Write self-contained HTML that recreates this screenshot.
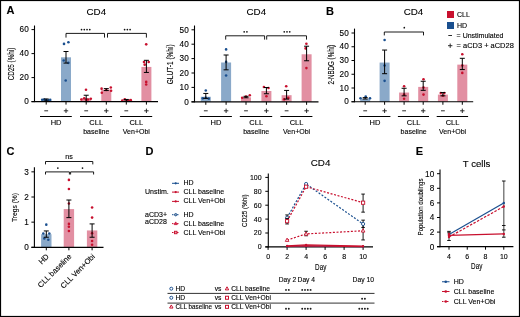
<!DOCTYPE html>
<html><head><meta charset="utf-8"><style>
html,body{margin:0;padding:0;background:#fff;}
body{width:520px;height:317px;overflow:hidden;}
svg{display:block;font-family:"Liberation Sans", sans-serif;will-change:transform;}
text{stroke:#000;stroke-width:0.12px;}
</style></head><body>
<svg width="520" height="317" viewBox="0 0 520 317">

<text x="10.6" y="14.4" font-size="11" text-anchor="middle" font-weight="bold" fill="#000" >A</text>
<text x="330.0" y="14.5" font-size="11" text-anchor="middle" font-weight="bold" fill="#000" >B</text>
<text x="10.5" y="154.8" font-size="11" text-anchor="middle" font-weight="bold" fill="#000" >C</text>
<text x="149.4" y="154.8" font-size="11" text-anchor="middle" font-weight="bold" fill="#000" >D</text>
<text x="419.3" y="154.9" font-size="11" text-anchor="middle" font-weight="bold" fill="#000" >E</text>
<text x="96.3" y="14.8" font-size="9.8" text-anchor="middle" font-weight="normal" fill="#000" >CD4</text>
<line x1="34.5" y1="25.5" x2="34.5" y2="102.1" stroke="#000" stroke-width="1.1" />
<line x1="31.5" y1="101.6" x2="34.5" y2="101.6" stroke="#000" stroke-width="1" />
<text x="28.7" y="104.3" font-size="8.2" text-anchor="end" font-weight="normal" fill="#000" >0</text>
<line x1="31.5" y1="77.6" x2="34.5" y2="77.6" stroke="#000" stroke-width="1" />
<text x="28.7" y="80.3" font-size="8.2" text-anchor="end" font-weight="normal" fill="#000" >20</text>
<line x1="31.5" y1="53.599999999999994" x2="34.5" y2="53.599999999999994" stroke="#000" stroke-width="1" />
<text x="28.7" y="56.3" font-size="8.2" text-anchor="end" font-weight="normal" fill="#000" >40</text>
<line x1="31.5" y1="29.599999999999994" x2="34.5" y2="29.599999999999994" stroke="#000" stroke-width="1" />
<text x="28.7" y="32.3" font-size="8.2" text-anchor="end" font-weight="normal" fill="#000" >60</text>
<rect x="41.2" y="100.39999999999999" width="10" height="1.2" fill="#8aa9c9"/>
<circle cx="42.2" cy="99.8" r="1.3" fill="#1a4f8f"/>
<circle cx="44.2" cy="99.44" r="1.3" fill="#1a4f8f"/>
<circle cx="46.2" cy="100.16" r="1.3" fill="#1a4f8f"/>
<circle cx="48.2" cy="100.39999999999999" r="1.3" fill="#1a4f8f"/>
<circle cx="50.2" cy="99.91999999999999" r="1.3" fill="#1a4f8f"/>
<line x1="46.2" y1="98.96" x2="46.2" y2="101.0" stroke="#000" stroke-width="1" />
<line x1="43.7" y1="98.96" x2="48.7" y2="98.96" stroke="#000" stroke-width="1" />
<line x1="43.7" y1="101.0" x2="48.7" y2="101.0" stroke="#000" stroke-width="1" />
<line x1="46.2" y1="101.6" x2="46.2" y2="104.6" stroke="#000" stroke-width="1" />
<rect x="61.0" y="57.32" width="10" height="44.279999999999994" fill="#8aa9c9"/>
<circle cx="64" cy="43.879999999999995" r="1.3" fill="#1a4f8f"/>
<circle cx="68.4" cy="42.32" r="1.3" fill="#1a4f8f"/>
<circle cx="63.7" cy="60.44" r="1.3" fill="#1a4f8f"/>
<circle cx="68.4" cy="62.839999999999996" r="1.3" fill="#1a4f8f"/>
<circle cx="65.7" cy="80.47999999999999" r="1.3" fill="#1a4f8f"/>
<line x1="66" y1="51.49999999999999" x2="66" y2="63.07999999999999" stroke="#000" stroke-width="1" />
<line x1="63.5" y1="51.49999999999999" x2="68.5" y2="51.49999999999999" stroke="#000" stroke-width="1" />
<line x1="63.5" y1="63.07999999999999" x2="68.5" y2="63.07999999999999" stroke="#000" stroke-width="1" />
<line x1="66" y1="101.6" x2="66" y2="104.6" stroke="#000" stroke-width="1" />
<rect x="81.2" y="98.24" width="10" height="3.36" fill="#e28fa2"/>
<circle cx="86.0" cy="89.72" r="1.3" fill="#c8102e"/>
<circle cx="81.3" cy="99.44" r="1.3" fill="#c8102e"/>
<circle cx="84.2" cy="98.36" r="1.3" fill="#c8102e"/>
<circle cx="87.9" cy="99.44" r="1.3" fill="#c8102e"/>
<circle cx="90.8" cy="98.72" r="1.3" fill="#c8102e"/>
<circle cx="86.2" cy="99.8" r="1.3" fill="#c8102e"/>
<line x1="86.2" y1="95.24" x2="86.2" y2="101.6" stroke="#000" stroke-width="1" />
<line x1="83.7" y1="95.24" x2="88.7" y2="95.24" stroke="#000" stroke-width="1" />
<line x1="83.7" y1="101.6" x2="88.7" y2="101.6" stroke="#000" stroke-width="1" />
<line x1="86.2" y1="101.6" x2="86.2" y2="104.6" stroke="#000" stroke-width="1" />
<rect x="101.3" y="89.72" width="10" height="11.88" fill="#e28fa2"/>
<circle cx="101.6" cy="88.63999999999999" r="1.3" fill="#c8102e"/>
<circle cx="110.8" cy="87.5" r="1.3" fill="#c8102e"/>
<circle cx="101.8" cy="92.72" r="1.3" fill="#c8102e"/>
<circle cx="111.1" cy="90.8" r="1.3" fill="#c8102e"/>
<circle cx="106.3" cy="89.96" r="1.3" fill="#c8102e"/>
<line x1="106.3" y1="88.63999999999999" x2="106.3" y2="90.56" stroke="#000" stroke-width="1" />
<line x1="103.8" y1="88.63999999999999" x2="108.8" y2="88.63999999999999" stroke="#000" stroke-width="1" />
<line x1="103.8" y1="90.56" x2="108.8" y2="90.56" stroke="#000" stroke-width="1" />
<line x1="106.3" y1="101.6" x2="106.3" y2="104.6" stroke="#000" stroke-width="1" />
<rect x="121.3" y="100.39999999999999" width="10" height="1.2" fill="#e28fa2"/>
<circle cx="122.3" cy="100.64" r="1.3" fill="#c8102e"/>
<circle cx="124.8" cy="99.32" r="1.3" fill="#c8102e"/>
<circle cx="126.8" cy="100.39999999999999" r="1.3" fill="#c8102e"/>
<circle cx="129.3" cy="100.64" r="1.3" fill="#c8102e"/>
<circle cx="130.8" cy="100.16" r="1.3" fill="#c8102e"/>
<line x1="126.3" y1="99.44" x2="126.3" y2="101.24" stroke="#000" stroke-width="1" />
<line x1="123.8" y1="99.44" x2="128.8" y2="99.44" stroke="#000" stroke-width="1" />
<line x1="123.8" y1="101.24" x2="128.8" y2="101.24" stroke="#000" stroke-width="1" />
<line x1="126.3" y1="101.6" x2="126.3" y2="104.6" stroke="#000" stroke-width="1" />
<rect x="141.4" y="66.91999999999999" width="10" height="34.68" fill="#e28fa2"/>
<circle cx="146.20000000000002" cy="44.35999999999999" r="1.3" fill="#c8102e"/>
<circle cx="144.0" cy="61.99999999999999" r="1.3" fill="#c8102e"/>
<circle cx="148.70000000000002" cy="61.99999999999999" r="1.3" fill="#c8102e"/>
<circle cx="144.70000000000002" cy="64.63999999999999" r="1.3" fill="#c8102e"/>
<circle cx="146.20000000000002" cy="81.92" r="1.3" fill="#c8102e"/>
<circle cx="146.20000000000002" cy="84.56" r="1.3" fill="#c8102e"/>
<line x1="146.4" y1="60.32" x2="146.4" y2="72.44" stroke="#000" stroke-width="1" />
<line x1="143.9" y1="60.32" x2="148.9" y2="60.32" stroke="#000" stroke-width="1" />
<line x1="143.9" y1="72.44" x2="148.9" y2="72.44" stroke="#000" stroke-width="1" />
<line x1="146.4" y1="101.6" x2="146.4" y2="104.6" stroke="#000" stroke-width="1" />
<line x1="31.5" y1="101.6" x2="158" y2="101.6" stroke="#000" stroke-width="1.2" />
<line x1="44.300000000000004" y1="110.8" x2="48.1" y2="110.8" stroke="#222" stroke-width="0.95" />
<line x1="63.8" y1="110.8" x2="68.2" y2="110.8" stroke="#222" stroke-width="0.95" />
<line x1="66" y1="108.6" x2="66" y2="113.0" stroke="#222" stroke-width="0.95" />
<line x1="84.3" y1="110.8" x2="88.10000000000001" y2="110.8" stroke="#222" stroke-width="0.95" />
<line x1="104.1" y1="110.8" x2="108.5" y2="110.8" stroke="#222" stroke-width="0.95" />
<line x1="106.3" y1="108.6" x2="106.3" y2="113.0" stroke="#222" stroke-width="0.95" />
<line x1="124.39999999999999" y1="110.8" x2="128.2" y2="110.8" stroke="#222" stroke-width="0.95" />
<line x1="144.20000000000002" y1="110.8" x2="148.6" y2="110.8" stroke="#222" stroke-width="0.95" />
<line x1="146.4" y1="108.6" x2="146.4" y2="113.0" stroke="#222" stroke-width="0.95" />
<line x1="40.0" y1="116.5" x2="71.8" y2="116.5" stroke="#000" stroke-width="1" />
<text x="56.1" y="124.9" font-size="7.5" text-anchor="middle" font-weight="normal" fill="#000" >HD</text>
<line x1="80.0" y1="116.5" x2="112.1" y2="116.5" stroke="#000" stroke-width="1" />
<text x="96.25" y="124.9" font-size="7.5" text-anchor="middle" font-weight="normal" fill="#000" >CLL</text>
<text x="96.25" y="134.1" font-size="7" text-anchor="middle" font-weight="normal" fill="#000" >baseline</text>
<line x1="120.1" y1="116.5" x2="152.20000000000002" y2="116.5" stroke="#000" stroke-width="1" />
<text x="136.35" y="124.9" font-size="7.5" text-anchor="middle" font-weight="normal" fill="#000" >CLL</text>
<text x="136.35" y="134.1" font-size="7" text-anchor="middle" font-weight="normal" fill="#000" >Ven+Obi</text>
<text transform="translate(14.0,80.35) rotate(-90)" font-size="8.5" text-anchor="start" textLength="32.7" lengthAdjust="spacingAndGlyphs">CD25 (%hi)</text>
<polyline points="66,37.6 66,33.4 104.5,33.4 104.5,37.6" fill="none" stroke="#000" stroke-width="0.9"/>
<circle cx="81.53" cy="29.599999999999998" r="0.85" fill="#111"/>
<circle cx="84.28" cy="29.599999999999998" r="0.85" fill="#111"/>
<circle cx="87.03" cy="29.599999999999998" r="0.85" fill="#111"/>
<circle cx="89.78" cy="29.599999999999998" r="0.85" fill="#111"/>
<polyline points="107.5,37.6 107.5,33.4 146.4,33.4 146.4,37.6" fill="none" stroke="#000" stroke-width="0.9"/>
<circle cx="124.60" cy="29.599999999999998" r="0.85" fill="#111"/>
<circle cx="127.35" cy="29.599999999999998" r="0.85" fill="#111"/>
<circle cx="130.10" cy="29.599999999999998" r="0.85" fill="#111"/>
<text x="256.3" y="14.8" font-size="9.8" text-anchor="middle" font-weight="normal" fill="#000" >CD4</text>
<line x1="194.5" y1="25.5" x2="194.5" y2="102.3" stroke="#000" stroke-width="1.1" />
<line x1="191.5" y1="101.8" x2="194.5" y2="101.8" stroke="#000" stroke-width="1" />
<text x="188.7" y="104.5" font-size="8.2" text-anchor="end" font-weight="normal" fill="#000" >0</text>
<line x1="191.5" y1="87.4" x2="194.5" y2="87.4" stroke="#000" stroke-width="1" />
<text x="188.7" y="90.10000000000001" font-size="8.2" text-anchor="end" font-weight="normal" fill="#000" >10</text>
<line x1="191.5" y1="73.0" x2="194.5" y2="73.0" stroke="#000" stroke-width="1" />
<text x="188.7" y="75.7" font-size="8.2" text-anchor="end" font-weight="normal" fill="#000" >20</text>
<line x1="191.5" y1="58.6" x2="194.5" y2="58.6" stroke="#000" stroke-width="1" />
<text x="188.7" y="61.300000000000004" font-size="8.2" text-anchor="end" font-weight="normal" fill="#000" >30</text>
<line x1="191.5" y1="44.2" x2="194.5" y2="44.2" stroke="#000" stroke-width="1" />
<text x="188.7" y="46.900000000000006" font-size="8.2" text-anchor="end" font-weight="normal" fill="#000" >40</text>
<line x1="191.5" y1="29.799999999999997" x2="194.5" y2="29.799999999999997" stroke="#000" stroke-width="1" />
<text x="188.7" y="32.5" font-size="8.2" text-anchor="end" font-weight="normal" fill="#000" >50</text>
<rect x="200.8" y="96.75999999999999" width="10" height="5.04" fill="#8aa9c9"/>
<circle cx="205.8" cy="90.568" r="1.3" fill="#1a4f8f"/>
<circle cx="202.8" cy="98.344" r="1.3" fill="#1a4f8f"/>
<circle cx="205.8" cy="97.768" r="1.3" fill="#1a4f8f"/>
<circle cx="208.8" cy="98.63199999999999" r="1.3" fill="#1a4f8f"/>
<line x1="205.8" y1="93.448" x2="205.8" y2="98.344" stroke="#000" stroke-width="1" />
<line x1="203.3" y1="93.448" x2="208.3" y2="93.448" stroke="#000" stroke-width="1" />
<line x1="203.3" y1="98.344" x2="208.3" y2="98.344" stroke="#000" stroke-width="1" />
<line x1="205.8" y1="101.8" x2="205.8" y2="104.8" stroke="#000" stroke-width="1" />
<rect x="221.1" y="62.488" width="10" height="39.312" fill="#8aa9c9"/>
<circle cx="226.1" cy="49.384" r="1.3" fill="#1a4f8f"/>
<circle cx="226.1" cy="61.912" r="1.3" fill="#1a4f8f"/>
<circle cx="226.1" cy="75.448" r="1.3" fill="#1a4f8f"/>
<line x1="226.1" y1="55.0" x2="226.1" y2="69.832" stroke="#000" stroke-width="1" />
<line x1="223.6" y1="55.0" x2="228.6" y2="55.0" stroke="#000" stroke-width="1" />
<line x1="223.6" y1="69.832" x2="228.6" y2="69.832" stroke="#000" stroke-width="1" />
<line x1="226.1" y1="101.8" x2="226.1" y2="104.8" stroke="#000" stroke-width="1" />
<rect x="241.0" y="97.336" width="10" height="4.4639999999999995" fill="#e28fa2"/>
<circle cx="242.2" cy="97.768" r="1.3" fill="#c8102e"/>
<circle cx="249.8" cy="95.176" r="1.3" fill="#c8102e"/>
<circle cx="246" cy="96.616" r="1.3" fill="#c8102e"/>
<line x1="246" y1="96.328" x2="246" y2="97.768" stroke="#000" stroke-width="1" />
<line x1="243.5" y1="96.328" x2="248.5" y2="96.328" stroke="#000" stroke-width="1" />
<line x1="243.5" y1="97.768" x2="248.5" y2="97.768" stroke="#000" stroke-width="1" />
<line x1="246" y1="101.8" x2="246" y2="104.8" stroke="#000" stroke-width="1" />
<rect x="261.4" y="91.0" width="10" height="10.799999999999999" fill="#e28fa2"/>
<circle cx="263.9" cy="86.96799999999999" r="1.3" fill="#c8102e"/>
<circle cx="268.5" cy="87.976" r="1.3" fill="#c8102e"/>
<circle cx="266.4" cy="96.184" r="1.3" fill="#c8102e"/>
<line x1="266.4" y1="87.544" x2="266.4" y2="93.73599999999999" stroke="#000" stroke-width="1" />
<line x1="263.9" y1="87.544" x2="268.9" y2="87.544" stroke="#000" stroke-width="1" />
<line x1="263.9" y1="93.73599999999999" x2="268.9" y2="93.73599999999999" stroke="#000" stroke-width="1" />
<line x1="266.4" y1="101.8" x2="266.4" y2="104.8" stroke="#000" stroke-width="1" />
<rect x="281.6" y="95.176" width="10" height="6.624" fill="#e28fa2"/>
<circle cx="286.20000000000005" cy="86.24799999999999" r="1.3" fill="#c8102e"/>
<circle cx="284.1" cy="99.352" r="1.3" fill="#c8102e"/>
<circle cx="288.3" cy="97.91199999999999" r="1.3" fill="#c8102e"/>
<line x1="286.6" y1="90.42399999999999" x2="286.6" y2="99.064" stroke="#000" stroke-width="1" />
<line x1="284.1" y1="90.42399999999999" x2="289.1" y2="90.42399999999999" stroke="#000" stroke-width="1" />
<line x1="284.1" y1="99.064" x2="289.1" y2="99.064" stroke="#000" stroke-width="1" />
<line x1="286.6" y1="101.8" x2="286.6" y2="104.8" stroke="#000" stroke-width="1" />
<rect x="301.6" y="54.28" width="10" height="47.519999999999996" fill="#e28fa2"/>
<circle cx="306.40000000000003" cy="43.768" r="1.3" fill="#c8102e"/>
<circle cx="305.6" cy="48.376" r="1.3" fill="#c8102e"/>
<circle cx="306.40000000000003" cy="68.104" r="1.3" fill="#c8102e"/>
<line x1="306.6" y1="46.215999999999994" x2="306.6" y2="60.76" stroke="#000" stroke-width="1" />
<line x1="304.1" y1="46.215999999999994" x2="309.1" y2="46.215999999999994" stroke="#000" stroke-width="1" />
<line x1="304.1" y1="60.76" x2="309.1" y2="60.76" stroke="#000" stroke-width="1" />
<line x1="306.6" y1="101.8" x2="306.6" y2="104.8" stroke="#000" stroke-width="1" />
<line x1="191.5" y1="101.8" x2="318.5" y2="101.8" stroke="#000" stroke-width="1.2" />
<line x1="203.9" y1="110.8" x2="207.70000000000002" y2="110.8" stroke="#222" stroke-width="0.95" />
<line x1="223.9" y1="110.8" x2="228.29999999999998" y2="110.8" stroke="#222" stroke-width="0.95" />
<line x1="226.1" y1="108.6" x2="226.1" y2="113.0" stroke="#222" stroke-width="0.95" />
<line x1="244.1" y1="110.8" x2="247.9" y2="110.8" stroke="#222" stroke-width="0.95" />
<line x1="264.2" y1="110.8" x2="268.59999999999997" y2="110.8" stroke="#222" stroke-width="0.95" />
<line x1="266.4" y1="108.6" x2="266.4" y2="113.0" stroke="#222" stroke-width="0.95" />
<line x1="284.70000000000005" y1="110.8" x2="288.5" y2="110.8" stroke="#222" stroke-width="0.95" />
<line x1="304.40000000000003" y1="110.8" x2="308.8" y2="110.8" stroke="#222" stroke-width="0.95" />
<line x1="306.6" y1="108.6" x2="306.6" y2="113.0" stroke="#222" stroke-width="0.95" />
<line x1="199.60000000000002" y1="116.5" x2="231.9" y2="116.5" stroke="#000" stroke-width="1" />
<text x="215.95" y="124.9" font-size="7.5" text-anchor="middle" font-weight="normal" fill="#000" >HD</text>
<line x1="239.8" y1="116.5" x2="272.2" y2="116.5" stroke="#000" stroke-width="1" />
<text x="256.2" y="124.9" font-size="7.5" text-anchor="middle" font-weight="normal" fill="#000" >CLL</text>
<text x="256.2" y="134.1" font-size="7" text-anchor="middle" font-weight="normal" fill="#000" >baseline</text>
<line x1="280.40000000000003" y1="116.5" x2="312.40000000000003" y2="116.5" stroke="#000" stroke-width="1" />
<text x="296.6" y="124.9" font-size="7.5" text-anchor="middle" font-weight="normal" fill="#000" >CLL</text>
<text x="296.6" y="134.1" font-size="7" text-anchor="middle" font-weight="normal" fill="#000" >Ven+Obi</text>
<text transform="translate(173.4,84.19999999999999) rotate(-90)" font-size="8.5" text-anchor="start" textLength="39.8" lengthAdjust="spacingAndGlyphs">GLUT-1 (%hi)</text>
<polyline points="225.7,39.599999999999994 225.7,35.8 264.6,35.8 264.6,39.599999999999994" fill="none" stroke="#000" stroke-width="0.9"/>
<circle cx="244.18" cy="31.799999999999997" r="0.85" fill="#111"/>
<circle cx="246.93" cy="31.799999999999997" r="0.85" fill="#111"/>
<polyline points="266.7,39.599999999999994 266.7,35.8 306.5,35.8 306.5,39.599999999999994" fill="none" stroke="#000" stroke-width="0.9"/>
<circle cx="284.25" cy="31.799999999999997" r="0.85" fill="#111"/>
<circle cx="287.00" cy="31.799999999999997" r="0.85" fill="#111"/>
<circle cx="289.75" cy="31.799999999999997" r="0.85" fill="#111"/>
<text x="413.5" y="14.8" font-size="9.8" text-anchor="middle" font-weight="normal" fill="#000" >CD4</text>
<line x1="354.5" y1="28.6" x2="354.5" y2="102.25" stroke="#000" stroke-width="1.1" />
<line x1="351.5" y1="101.75" x2="354.5" y2="101.75" stroke="#000" stroke-width="1" />
<text x="348.7" y="104.45" font-size="8.2" text-anchor="end" font-weight="normal" fill="#000" >0</text>
<line x1="351.5" y1="88.0" x2="354.5" y2="88.0" stroke="#000" stroke-width="1" />
<text x="348.7" y="90.7" font-size="8.2" text-anchor="end" font-weight="normal" fill="#000" >10</text>
<line x1="351.5" y1="74.25" x2="354.5" y2="74.25" stroke="#000" stroke-width="1" />
<text x="348.7" y="76.95" font-size="8.2" text-anchor="end" font-weight="normal" fill="#000" >20</text>
<line x1="351.5" y1="60.5" x2="354.5" y2="60.5" stroke="#000" stroke-width="1" />
<text x="348.7" y="63.2" font-size="8.2" text-anchor="end" font-weight="normal" fill="#000" >30</text>
<line x1="351.5" y1="46.75" x2="354.5" y2="46.75" stroke="#000" stroke-width="1" />
<text x="348.7" y="49.45" font-size="8.2" text-anchor="end" font-weight="normal" fill="#000" >40</text>
<line x1="351.5" y1="33.0" x2="354.5" y2="33.0" stroke="#000" stroke-width="1" />
<text x="348.7" y="35.7" font-size="8.2" text-anchor="end" font-weight="normal" fill="#000" >50</text>
<rect x="360.2" y="98.725" width="10" height="3.0250000000000004" fill="#8aa9c9"/>
<circle cx="360.5" cy="98.175" r="1.3" fill="#1a4f8f"/>
<circle cx="365.7" cy="96.6625" r="1.3" fill="#1a4f8f"/>
<circle cx="370.0" cy="98.175" r="1.3" fill="#1a4f8f"/>
<line x1="365.2" y1="97.625" x2="365.2" y2="99.0" stroke="#000" stroke-width="1" />
<line x1="362.7" y1="97.625" x2="367.7" y2="97.625" stroke="#000" stroke-width="1" />
<line x1="362.7" y1="99.0" x2="367.7" y2="99.0" stroke="#000" stroke-width="1" />
<line x1="365.2" y1="101.75" x2="365.2" y2="104.75" stroke="#000" stroke-width="1" />
<rect x="379.6" y="62.5625" width="10" height="39.1875" fill="#8aa9c9"/>
<circle cx="384.6" cy="40.0125" r="1.3" fill="#1a4f8f"/>
<circle cx="384.6" cy="65.45" r="1.3" fill="#1a4f8f"/>
<circle cx="384.6" cy="80.85" r="1.3" fill="#1a4f8f"/>
<line x1="384.6" y1="50.05" x2="384.6" y2="73.7" stroke="#000" stroke-width="1" />
<line x1="382.1" y1="50.05" x2="387.1" y2="50.05" stroke="#000" stroke-width="1" />
<line x1="382.1" y1="73.7" x2="387.1" y2="73.7" stroke="#000" stroke-width="1" />
<line x1="384.6" y1="101.75" x2="384.6" y2="104.75" stroke="#000" stroke-width="1" />
<rect x="399.1" y="92.5375" width="10" height="9.2125" fill="#e28fa2"/>
<circle cx="404.1" cy="86.2125" r="1.3" fill="#c8102e"/>
<circle cx="404.1" cy="94.6" r="1.3" fill="#c8102e"/>
<circle cx="404.1" cy="98.725" r="1.3" fill="#c8102e"/>
<line x1="404.1" y1="88.275" x2="404.1" y2="95.8375" stroke="#000" stroke-width="1" />
<line x1="401.6" y1="88.275" x2="406.6" y2="88.275" stroke="#000" stroke-width="1" />
<line x1="401.6" y1="95.8375" x2="406.6" y2="95.8375" stroke="#000" stroke-width="1" />
<line x1="404.1" y1="101.75" x2="404.1" y2="104.75" stroke="#000" stroke-width="1" />
<rect x="418.2" y="86.9" width="10" height="14.850000000000001" fill="#e28fa2"/>
<circle cx="423.5" cy="79.2" r="1.3" fill="#c8102e"/>
<circle cx="423.5" cy="87.45" r="1.3" fill="#c8102e"/>
<circle cx="423.5" cy="94.6" r="1.3" fill="#c8102e"/>
<line x1="423.2" y1="81.2625" x2="423.2" y2="90.3375" stroke="#000" stroke-width="1" />
<line x1="420.7" y1="81.2625" x2="425.7" y2="81.2625" stroke="#000" stroke-width="1" />
<line x1="420.7" y1="90.3375" x2="425.7" y2="90.3375" stroke="#000" stroke-width="1" />
<line x1="423.2" y1="101.75" x2="423.2" y2="104.75" stroke="#000" stroke-width="1" />
<rect x="437.9" y="94.6" width="10" height="7.15" fill="#e28fa2"/>
<circle cx="440.79999999999995" cy="93.0875" r="1.3" fill="#c8102e"/>
<circle cx="444.29999999999995" cy="93.0875" r="1.3" fill="#c8102e"/>
<circle cx="442.9" cy="95.7" r="1.3" fill="#c8102e"/>
<line x1="442.9" y1="92.5375" x2="442.9" y2="95.8375" stroke="#000" stroke-width="1" />
<line x1="440.4" y1="92.5375" x2="445.4" y2="92.5375" stroke="#000" stroke-width="1" />
<line x1="440.4" y1="95.8375" x2="445.4" y2="95.8375" stroke="#000" stroke-width="1" />
<line x1="442.9" y1="101.75" x2="442.9" y2="104.75" stroke="#000" stroke-width="1" />
<rect x="457.3" y="64.625" width="10" height="37.125" fill="#e28fa2"/>
<circle cx="462.3" cy="54.175" r="1.3" fill="#c8102e"/>
<circle cx="462.3" cy="65.45" r="1.3" fill="#c8102e"/>
<circle cx="462.3" cy="72.875" r="1.3" fill="#c8102e"/>
<line x1="462.3" y1="58.3" x2="462.3" y2="69.575" stroke="#000" stroke-width="1" />
<line x1="459.8" y1="58.3" x2="464.8" y2="58.3" stroke="#000" stroke-width="1" />
<line x1="459.8" y1="69.575" x2="464.8" y2="69.575" stroke="#000" stroke-width="1" />
<line x1="462.3" y1="101.75" x2="462.3" y2="104.75" stroke="#000" stroke-width="1" />
<line x1="351.5" y1="101.75" x2="473.2" y2="101.75" stroke="#000" stroke-width="1.2" />
<line x1="363.3" y1="110.8" x2="367.09999999999997" y2="110.8" stroke="#222" stroke-width="0.95" />
<line x1="382.40000000000003" y1="110.8" x2="386.8" y2="110.8" stroke="#222" stroke-width="0.95" />
<line x1="384.6" y1="108.6" x2="384.6" y2="113.0" stroke="#222" stroke-width="0.95" />
<line x1="402.20000000000005" y1="110.8" x2="406.0" y2="110.8" stroke="#222" stroke-width="0.95" />
<line x1="421.0" y1="110.8" x2="425.4" y2="110.8" stroke="#222" stroke-width="0.95" />
<line x1="423.2" y1="108.6" x2="423.2" y2="113.0" stroke="#222" stroke-width="0.95" />
<line x1="441.0" y1="110.8" x2="444.79999999999995" y2="110.8" stroke="#222" stroke-width="0.95" />
<line x1="460.1" y1="110.8" x2="464.5" y2="110.8" stroke="#222" stroke-width="0.95" />
<line x1="462.3" y1="108.6" x2="462.3" y2="113.0" stroke="#222" stroke-width="0.95" />
<line x1="359.0" y1="116.5" x2="390.40000000000003" y2="116.5" stroke="#000" stroke-width="1" />
<text x="374.9" y="124.9" font-size="7.5" text-anchor="middle" font-weight="normal" fill="#000" >HD</text>
<line x1="397.90000000000003" y1="116.5" x2="429.0" y2="116.5" stroke="#000" stroke-width="1" />
<text x="413.65" y="124.9" font-size="7.5" text-anchor="middle" font-weight="normal" fill="#000" >CLL</text>
<text x="413.65" y="134.1" font-size="7" text-anchor="middle" font-weight="normal" fill="#000" >baseline</text>
<line x1="436.7" y1="116.5" x2="468.1" y2="116.5" stroke="#000" stroke-width="1" />
<text x="452.6" y="124.9" font-size="7.5" text-anchor="middle" font-weight="normal" fill="#000" >CLL</text>
<text x="452.6" y="134.1" font-size="7" text-anchor="middle" font-weight="normal" fill="#000" >Ven+Obi</text>
<text transform="translate(334.0,84.5) rotate(-90)" font-size="8.5" text-anchor="start" textLength="39.5" lengthAdjust="spacingAndGlyphs">2-NBDG (%hi)</text>
<polyline points="384.3,35.4 384.3,32 423.5,32 423.5,35.4" fill="none" stroke="#000" stroke-width="0.9"/>
<circle cx="404.30" cy="27.7" r="0.85" fill="#111"/>
<rect x="447" y="11" width="7" height="7" fill="#c8102e"/>
<rect x="447" y="22" width="7" height="7" fill="#1a4f8f"/>
<text x="457" y="17" font-size="7" text-anchor="start" font-weight="normal" fill="#000" >CLL</text>
<text x="457" y="28" font-size="7" text-anchor="start" font-weight="normal" fill="#000" >HD</text>
<line x1="448.3" y1="35.5" x2="452" y2="35.5" stroke="#222" stroke-width="0.95" />
<line x1="448.0" y1="45.7" x2="452.4" y2="45.7" stroke="#222" stroke-width="0.95" />
<line x1="450.2" y1="43.5" x2="450.2" y2="47.9" stroke="#222" stroke-width="0.95" />
<text x="456.6" y="38.2" font-size="7" text-anchor="start" font-weight="normal" fill="#000" >= Unstimulated</text>
<text x="456.6" y="48.2" font-size="7" text-anchor="start" font-weight="normal" fill="#000" textLength="57.2" lengthAdjust="spacingAndGlyphs">= aCD3 + aCD28</text>
<line x1="34.4" y1="167.3" x2="34.4" y2="247.8" stroke="#000" stroke-width="1.1" />
<line x1="31.4" y1="247.3" x2="34.4" y2="247.3" stroke="#000" stroke-width="1" />
<text x="28.9" y="250.10000000000002" font-size="8.2" text-anchor="end" font-weight="normal" fill="#000" >0</text>
<line x1="31.4" y1="222.15" x2="34.4" y2="222.15" stroke="#000" stroke-width="1" />
<text x="28.9" y="224.95000000000002" font-size="8.2" text-anchor="end" font-weight="normal" fill="#000" >1</text>
<line x1="31.4" y1="197.0" x2="34.4" y2="197.0" stroke="#000" stroke-width="1" />
<text x="28.9" y="199.8" font-size="8.2" text-anchor="end" font-weight="normal" fill="#000" >2</text>
<line x1="31.4" y1="171.85000000000002" x2="34.4" y2="171.85000000000002" stroke="#000" stroke-width="1" />
<text x="28.9" y="174.65000000000003" font-size="8.2" text-anchor="end" font-weight="normal" fill="#000" >3</text>
<rect x="41.099999999999994" y="234.222" width="10.4" height="13.078" fill="#8aa9c9"/>
<circle cx="46.3" cy="224.66500000000002" r="1.3" fill="#1a4f8f"/>
<circle cx="43.3" cy="233.4675" r="1.3" fill="#1a4f8f"/>
<circle cx="49.3" cy="233.4675" r="1.3" fill="#1a4f8f"/>
<circle cx="44.3" cy="238.4975" r="1.3" fill="#1a4f8f"/>
<circle cx="48.3" cy="239.75500000000002" r="1.3" fill="#1a4f8f"/>
<line x1="46.3" y1="230.95250000000001" x2="46.3" y2="237.24" stroke="#000" stroke-width="1" />
<line x1="43.8" y1="230.95250000000001" x2="48.8" y2="230.95250000000001" stroke="#000" stroke-width="1" />
<line x1="43.8" y1="237.24" x2="48.8" y2="237.24" stroke="#000" stroke-width="1" />
<line x1="46.3" y1="247.3" x2="46.3" y2="250.3" stroke="#000" stroke-width="1" />
<rect x="63.7" y="209.072" width="10.4" height="38.228" fill="#e28fa2"/>
<circle cx="68.9" cy="179.89800000000002" r="1.3" fill="#c8102e"/>
<circle cx="68.9" cy="188.95200000000003" r="1.3" fill="#c8102e"/>
<circle cx="68.9" cy="203.53900000000002" r="1.3" fill="#c8102e"/>
<circle cx="68.9" cy="223.9105" r="1.3" fill="#c8102e"/>
<circle cx="68.9" cy="226.67700000000002" r="1.3" fill="#c8102e"/>
<circle cx="68.9" cy="230.95250000000001" r="1.3" fill="#c8102e"/>
<line x1="68.9" y1="200.01800000000003" x2="68.9" y2="217.62300000000002" stroke="#000" stroke-width="1" />
<line x1="66.4" y1="200.01800000000003" x2="71.4" y2="200.01800000000003" stroke="#000" stroke-width="1" />
<line x1="66.4" y1="217.62300000000002" x2="71.4" y2="217.62300000000002" stroke="#000" stroke-width="1" />
<line x1="68.9" y1="247.3" x2="68.9" y2="250.3" stroke="#000" stroke-width="1" />
<rect x="86.89999999999999" y="230.4495" width="10.4" height="16.8505" fill="#e28fa2"/>
<circle cx="92.1" cy="207.56300000000002" r="1.3" fill="#c8102e"/>
<circle cx="92.1" cy="217.62300000000002" r="1.3" fill="#c8102e"/>
<circle cx="92.1" cy="233.216" r="1.3" fill="#c8102e"/>
<circle cx="92.1" cy="241.01250000000002" r="1.3" fill="#c8102e"/>
<circle cx="92.1" cy="244.78500000000003" r="1.3" fill="#c8102e"/>
<line x1="92.1" y1="223.9105" x2="92.1" y2="237.24" stroke="#000" stroke-width="1" />
<line x1="89.6" y1="223.9105" x2="94.6" y2="223.9105" stroke="#000" stroke-width="1" />
<line x1="89.6" y1="237.24" x2="94.6" y2="237.24" stroke="#000" stroke-width="1" />
<line x1="92.1" y1="247.3" x2="92.1" y2="250.3" stroke="#000" stroke-width="1" />
<line x1="31.4" y1="247.3" x2="103.5" y2="247.3" stroke="#000" stroke-width="1.2" />
<text transform="translate(17.0,222.05) rotate(-90)" font-size="7.8" text-anchor="start" textLength="29.1" lengthAdjust="spacingAndGlyphs">Tregs (%)</text>
<polyline points="45.5,164.4 45.5,161.5 92.8,161.5 92.8,164.4" fill="none" stroke="#000" stroke-width="0.9"/>
<text x="69.15" y="158.7" font-size="7.2" text-anchor="middle" font-weight="normal" fill="#000" >ns</text>
<polyline points="45.5,174.5 45.5,171.9 69.4,171.9 69.4,174.5" fill="none" stroke="#000" stroke-width="0.9"/>
<circle cx="57.85" cy="168.1" r="0.85" fill="#111"/>
<polyline points="70.6,174.5 70.6,171.9 93.6,171.9 93.6,174.5" fill="none" stroke="#000" stroke-width="0.9"/>
<circle cx="82.50" cy="168.1" r="0.85" fill="#111"/>
<text transform="translate(49.5,257) rotate(-45)" font-size="7.6" text-anchor="end">HD</text>
<text transform="translate(72,257) rotate(-45)" font-size="7.6" text-anchor="end">CLL baseline</text>
<text transform="translate(95.5,257) rotate(-45)" font-size="7.6" text-anchor="end">CLL Ven+Obi</text>
<text x="320.6" y="166.4" font-size="9.8" text-anchor="middle" font-weight="normal" fill="#000" >CD4</text>
<line x1="268.3" y1="173.5" x2="268.3" y2="247.4" stroke="#000" stroke-width="1.1" />
<line x1="265.3" y1="246.9" x2="268.3" y2="246.9" stroke="#000" stroke-width="1" />
<text x="261.6" y="249.3" font-size="7" text-anchor="end" font-weight="normal" fill="#000" >0</text>
<line x1="265.3" y1="233.0" x2="268.3" y2="233.0" stroke="#000" stroke-width="1" />
<text x="261.6" y="235.4" font-size="7" text-anchor="end" font-weight="normal" fill="#000" >20</text>
<line x1="265.3" y1="219.10000000000002" x2="268.3" y2="219.10000000000002" stroke="#000" stroke-width="1" />
<text x="261.6" y="221.50000000000003" font-size="7" text-anchor="end" font-weight="normal" fill="#000" >40</text>
<line x1="265.3" y1="205.20000000000002" x2="268.3" y2="205.20000000000002" stroke="#000" stroke-width="1" />
<text x="261.6" y="207.60000000000002" font-size="7" text-anchor="end" font-weight="normal" fill="#000" >60</text>
<line x1="265.3" y1="191.3" x2="268.3" y2="191.3" stroke="#000" stroke-width="1" />
<text x="261.6" y="193.70000000000002" font-size="7" text-anchor="end" font-weight="normal" fill="#000" >80</text>
<line x1="265.3" y1="177.4" x2="268.3" y2="177.4" stroke="#000" stroke-width="1" />
<text x="261.6" y="179.8" font-size="7" text-anchor="end" font-weight="normal" fill="#000" >100</text>
<line x1="265.3" y1="246.9" x2="373" y2="246.9" stroke="#000" stroke-width="1.3" />
<line x1="268.1" y1="246.9" x2="268.1" y2="249.9" stroke="#000" stroke-width="1" />
<text x="268.1" y="258.5" font-size="7" text-anchor="middle" font-weight="normal" fill="#000" >0</text>
<line x1="287.1" y1="246.9" x2="287.1" y2="249.9" stroke="#000" stroke-width="1" />
<text x="287.1" y="258.5" font-size="7" text-anchor="middle" font-weight="normal" fill="#000" >2</text>
<line x1="306.1" y1="246.9" x2="306.1" y2="249.9" stroke="#000" stroke-width="1" />
<text x="306.1" y="258.5" font-size="7" text-anchor="middle" font-weight="normal" fill="#000" >4</text>
<line x1="325.1" y1="246.9" x2="325.1" y2="249.9" stroke="#000" stroke-width="1" />
<text x="325.1" y="258.5" font-size="7" text-anchor="middle" font-weight="normal" fill="#000" >6</text>
<line x1="344.1" y1="246.9" x2="344.1" y2="249.9" stroke="#000" stroke-width="1" />
<text x="344.1" y="258.5" font-size="7" text-anchor="middle" font-weight="normal" fill="#000" >8</text>
<line x1="363.1" y1="246.9" x2="363.1" y2="249.9" stroke="#000" stroke-width="1" />
<text x="363.1" y="258.5" font-size="7" text-anchor="middle" font-weight="normal" fill="#000" >10</text>
<text transform="translate(320.75,269.7) scale(0.72,1)" font-size="8.8" text-anchor="middle">Day</text>
<text transform="translate(247.2,226.9) rotate(-90)" font-size="7.4" text-anchor="start" textLength="32.6" lengthAdjust="spacingAndGlyphs">CD25 (%hi)</text>
<polyline points="287.1,246.6 306.1,246.3 363.1,246.7" fill="none" stroke="#1a4f8f" stroke-width="1" />
<circle cx="287.1" cy="246.5525" r="1.1" fill="#1a4f8f"/>
<circle cx="306.1" cy="246.344" r="1.1" fill="#1a4f8f"/>
<circle cx="363.1" cy="246.69150000000002" r="1.1" fill="#1a4f8f"/>
<polyline points="287.1,245.9 306.1,244.8 363.1,246.1" fill="none" stroke="#c8102e" stroke-width="1.3" />
<circle cx="287.1" cy="245.85750000000002" r="1.1" fill="#c8102e"/>
<circle cx="306.1" cy="244.815" r="1.1" fill="#c8102e"/>
<circle cx="363.1" cy="246.066" r="1.1" fill="#c8102e"/>
<polyline points="287.1,246.3 306.1,245.9 363.1,246.6" fill="none" stroke="#c8102e" stroke-width="1.3" />
<circle cx="287.1" cy="246.344" r="1.1" fill="#c8102e"/>
<circle cx="306.1" cy="245.85750000000002" r="1.1" fill="#c8102e"/>
<circle cx="363.1" cy="246.5525" r="1.1" fill="#c8102e"/>
<polyline points="287.1,240.1 306.1,233.9 363.1,230.8" fill="none" stroke="#c8102e" stroke-width="1.2" stroke-dasharray="2,1.6"/>
<line x1="306.1" y1="231.26250000000002" x2="306.1" y2="235.78" stroke="#000" stroke-width="0.9" />
<line x1="304.3" y1="231.26250000000002" x2="307.90000000000003" y2="231.26250000000002" stroke="#000" stroke-width="0.9" />
<line x1="304.3" y1="235.78" x2="307.90000000000003" y2="235.78" stroke="#000" stroke-width="0.9" />
<line x1="363.1" y1="223.965" x2="363.1" y2="239.95000000000002" stroke="#000" stroke-width="0.9" />
<line x1="361.3" y1="223.965" x2="364.90000000000003" y2="223.965" stroke="#000" stroke-width="0.9" />
<line x1="361.3" y1="239.95000000000002" x2="364.90000000000003" y2="239.95000000000002" stroke="#000" stroke-width="0.9" />
<polygon points="287.1,238.089 285.3,241.389 288.90000000000003,241.389" fill="#fff" stroke="#c8102e" stroke-width="0.9"/>
<polygon points="306.1,231.9035 304.3,235.20350000000002 307.90000000000003,235.20350000000002" fill="#fff" stroke="#c8102e" stroke-width="0.9"/>
<polygon points="363.1,228.776 361.3,232.07600000000002 364.90000000000003,232.07600000000002" fill="#fff" stroke="#c8102e" stroke-width="0.9"/>
<polyline points="287.1,217.7 306.1,184.0 363.1,224.0" fill="none" stroke="#1a4f8f" stroke-width="1.2" stroke-dasharray="2,1.6"/>
<line x1="287.1" y1="214.93" x2="287.1" y2="221.185" stroke="#000" stroke-width="0.9" />
<line x1="285.3" y1="214.93" x2="288.90000000000003" y2="214.93" stroke="#000" stroke-width="0.9" />
<line x1="285.3" y1="221.185" x2="288.90000000000003" y2="221.185" stroke="#000" stroke-width="0.9" />
<line x1="363.1" y1="220.1425" x2="363.1" y2="227.44" stroke="#000" stroke-width="0.9" />
<line x1="361.3" y1="220.1425" x2="364.90000000000003" y2="220.1425" stroke="#000" stroke-width="0.9" />
<line x1="361.3" y1="227.44" x2="364.90000000000003" y2="227.44" stroke="#000" stroke-width="0.9" />
<circle cx="287.1" cy="217.71" r="1.6" fill="#fff" stroke="#1a4f8f" stroke-width="0.9"/>
<circle cx="306.1" cy="184.0025" r="1.6" fill="#fff" stroke="#1a4f8f" stroke-width="0.9"/>
<circle cx="363.1" cy="223.965" r="1.6" fill="#fff" stroke="#1a4f8f" stroke-width="0.9"/>
<polyline points="287.1,221.2 306.1,186.7 363.1,202.7" fill="none" stroke="#c8102e" stroke-width="1.2" stroke-dasharray="2,1.6"/>
<line x1="287.1" y1="218.405" x2="287.1" y2="223.965" stroke="#000" stroke-width="0.9" />
<line x1="285.3" y1="218.405" x2="288.90000000000003" y2="218.405" stroke="#000" stroke-width="0.9" />
<line x1="285.3" y1="223.965" x2="288.90000000000003" y2="223.965" stroke="#000" stroke-width="0.9" />
<line x1="363.1" y1="194.08" x2="363.1" y2="212.15" stroke="#000" stroke-width="0.9" />
<line x1="361.3" y1="194.08" x2="364.90000000000003" y2="194.08" stroke="#000" stroke-width="0.9" />
<line x1="361.3" y1="212.15" x2="364.90000000000003" y2="212.15" stroke="#000" stroke-width="0.9" />
<rect x="285.5" y="219.585" width="3.2" height="3.2" fill="#fff" stroke="#c8102e" stroke-width="0.9"/>
<rect x="304.5" y="185.11300000000003" width="3.2" height="3.2" fill="#fff" stroke="#c8102e" stroke-width="0.9"/>
<rect x="361.5" y="201.098" width="3.2" height="3.2" fill="#fff" stroke="#c8102e" stroke-width="0.9"/>
<text x="145" y="194.1" font-size="7" text-anchor="start" font-weight="normal" fill="#000" >Unstim.</text>
<text x="145" y="216.9" font-size="7" text-anchor="start" font-weight="normal" fill="#000" >aCD3+</text>
<text x="145" y="224.0" font-size="7" text-anchor="start" font-weight="normal" fill="#000" >aCD28</text>
<line x1="172" y1="183.3" x2="179" y2="183.3" stroke="#1a4f8f" stroke-width="1" />
<circle cx="175.7" cy="183.3" r="1.1" fill="#1a4f8f"/>
<text x="183.5" y="185.2" font-size="7" text-anchor="start" font-weight="normal" fill="#000" >HD</text>
<line x1="172" y1="192.1" x2="179" y2="192.1" stroke="#c8102e" stroke-width="1" />
<circle cx="175.7" cy="192.1" r="1.1" fill="#c8102e"/>
<text x="183.5" y="194.0" font-size="7" text-anchor="start" font-weight="normal" fill="#000" >CLL baseline</text>
<line x1="172" y1="201.4" x2="179" y2="201.4" stroke="#c8102e" stroke-width="1" />
<circle cx="175.7" cy="201.4" r="1.1" fill="#c8102e"/>
<text x="183.5" y="203.3" font-size="7" text-anchor="start" font-weight="normal" fill="#000" >CLL Ven+Obi</text>
<line x1="172" y1="214.7" x2="179" y2="214.7" stroke="#1a4f8f" stroke-width="1" stroke-dasharray="1.5,1"/>
<circle cx="175.7" cy="214.7" r="1.2" fill="#9ab" stroke="#1a4f8f" stroke-width="0.9"/>
<text x="183.5" y="216.7" font-size="7" text-anchor="start" font-weight="normal" fill="#000" >HD</text>
<line x1="172" y1="223.6" x2="179" y2="223.6" stroke="#c8102e" stroke-width="1" stroke-dasharray="1.5,1"/>
<polygon points="175.7,221.9 174.2,224.6 177.2,224.6" fill="#f3b" fill-opacity="0.3" stroke="#c8102e" stroke-width="0.9"/>
<text x="183.5" y="225.9" font-size="7" text-anchor="start" font-weight="normal" fill="#000" >CLL baseline</text>
<line x1="172" y1="232.5" x2="179" y2="232.5" stroke="#c8102e" stroke-width="1" stroke-dasharray="1.5,1"/>
<rect x="174.45" y="231.25" width="2.5" height="2.5" fill="#e9a" stroke="#c8102e" stroke-width="0.9"/>
<text x="183.5" y="234.8" font-size="7" text-anchor="start" font-weight="normal" fill="#000" >CLL Ven+Obi</text>
<text x="278.7" y="281.8" font-size="7" text-anchor="start" font-weight="normal" fill="#000" textLength="17.4" lengthAdjust="spacingAndGlyphs">Day 2</text>
<text x="297.6" y="281.8" font-size="7" text-anchor="start" font-weight="normal" fill="#000" textLength="17.4" lengthAdjust="spacingAndGlyphs">Day 4</text>
<text x="352.5" y="281.8" font-size="7" text-anchor="start" font-weight="normal" fill="#000" textLength="21.4" lengthAdjust="spacingAndGlyphs">Day 10</text>
<circle cx="171.3" cy="288.7" r="1.5" fill="#fff" stroke="#1a4f8f" stroke-width="1"/>
<text x="175.5" y="291.09999999999997" font-size="6.7" text-anchor="start" font-weight="normal" fill="#000" >HD</text>
<text x="218.1" y="291.09999999999997" font-size="6.7" text-anchor="middle" font-weight="normal" fill="#000" >vs</text>
<polygon points="227,286.8 225.3,289.9 228.7,289.9" fill="#fff" stroke="#c8102e" stroke-width="1"/>
<text x="231.2" y="291.09999999999997" font-size="6.7" text-anchor="start" font-weight="normal" fill="#000" >CLL baseline</text>
<circle cx="286.00" cy="289.9" r="0.95" fill="#1a1a1a"/>
<circle cx="288.80" cy="289.9" r="0.95" fill="#1a1a1a"/>
<circle cx="302.20" cy="289.9" r="0.95" fill="#1a1a1a"/>
<circle cx="305.00" cy="289.9" r="0.95" fill="#1a1a1a"/>
<circle cx="307.80" cy="289.9" r="0.95" fill="#1a1a1a"/>
<circle cx="310.60" cy="289.9" r="0.95" fill="#1a1a1a"/>
<circle cx="171.3" cy="297.75" r="1.5" fill="#fff" stroke="#1a4f8f" stroke-width="1"/>
<text x="175.5" y="300.15" font-size="6.7" text-anchor="start" font-weight="normal" fill="#000" >HD</text>
<text x="218.1" y="300.15" font-size="6.7" text-anchor="middle" font-weight="normal" fill="#000" >vs</text>
<rect x="225.5" y="296.25" width="3" height="3" fill="#fff" stroke="#c8102e" stroke-width="1"/>
<text x="231.2" y="300.15" font-size="6.7" text-anchor="start" font-weight="normal" fill="#000" >CLL Ven+Obi</text>
<circle cx="362.10" cy="298.8" r="0.95" fill="#1a1a1a"/>
<circle cx="364.90" cy="298.8" r="0.95" fill="#1a1a1a"/>
<polygon points="171.3,304.95000000000005 169.60000000000002,308.05 173.0,308.05" fill="#fff" stroke="#c8102e" stroke-width="1"/>
<text x="175.5" y="309.25" font-size="6.7" text-anchor="start" font-weight="normal" fill="#000" textLength="36.6" lengthAdjust="spacingAndGlyphs">CLL baseline</text>
<text x="218.1" y="309.25" font-size="6.7" text-anchor="middle" font-weight="normal" fill="#000" >vs</text>
<rect x="225.5" y="305.35" width="3" height="3" fill="#fff" stroke="#c8102e" stroke-width="1"/>
<text x="231.2" y="309.25" font-size="6.7" text-anchor="start" font-weight="normal" fill="#000" >CLL Ven+Obi</text>
<circle cx="286.00" cy="308.8" r="0.95" fill="#1a1a1a"/>
<circle cx="288.80" cy="308.8" r="0.95" fill="#1a1a1a"/>
<circle cx="302.20" cy="308.8" r="0.95" fill="#1a1a1a"/>
<circle cx="305.00" cy="308.8" r="0.95" fill="#1a1a1a"/>
<circle cx="307.80" cy="308.8" r="0.95" fill="#1a1a1a"/>
<circle cx="310.60" cy="308.8" r="0.95" fill="#1a1a1a"/>
<circle cx="359.30" cy="308.8" r="0.95" fill="#1a1a1a"/>
<circle cx="362.10" cy="308.8" r="0.95" fill="#1a1a1a"/>
<circle cx="364.90" cy="308.8" r="0.95" fill="#1a1a1a"/>
<circle cx="367.70" cy="308.8" r="0.95" fill="#1a1a1a"/>
<line x1="167.5" y1="293.4" x2="374.5" y2="293.4" stroke="#333" stroke-width="1" />
<line x1="167.5" y1="303.1" x2="374.5" y2="303.1" stroke="#333" stroke-width="1" />
<text x="476.6" y="166.6" font-size="9.6" text-anchor="middle" font-weight="normal" fill="#000" >T cells</text>
<line x1="440" y1="169.5" x2="440" y2="247.2" stroke="#000" stroke-width="1.1" />
<line x1="437" y1="246.7" x2="440" y2="246.7" stroke="#000" stroke-width="1" />
<text x="434.2" y="249.5" font-size="8.2" text-anchor="end" font-weight="normal" fill="#000" >0</text>
<line x1="437" y1="232.1" x2="440" y2="232.1" stroke="#000" stroke-width="1" />
<text x="434.2" y="234.9" font-size="8.2" text-anchor="end" font-weight="normal" fill="#000" >2</text>
<line x1="437" y1="217.5" x2="440" y2="217.5" stroke="#000" stroke-width="1" />
<text x="434.2" y="220.3" font-size="8.2" text-anchor="end" font-weight="normal" fill="#000" >4</text>
<line x1="437" y1="202.89999999999998" x2="440" y2="202.89999999999998" stroke="#000" stroke-width="1" />
<text x="434.2" y="205.7" font-size="8.2" text-anchor="end" font-weight="normal" fill="#000" >6</text>
<line x1="437" y1="188.29999999999998" x2="440" y2="188.29999999999998" stroke="#000" stroke-width="1" />
<text x="434.2" y="191.1" font-size="8.2" text-anchor="end" font-weight="normal" fill="#000" >8</text>
<line x1="437" y1="173.7" x2="440" y2="173.7" stroke="#000" stroke-width="1" />
<text x="434.2" y="176.5" font-size="8.2" text-anchor="end" font-weight="normal" fill="#000" >10</text>
<line x1="437" y1="246.7" x2="513.4" y2="246.7" stroke="#000" stroke-width="1.2" />
<line x1="449.0" y1="246.7" x2="449.0" y2="249.7" stroke="#000" stroke-width="1" />
<text x="449.0" y="258.5" font-size="7" text-anchor="middle" font-weight="normal" fill="#000" >4</text>
<line x1="467.26" y1="246.7" x2="467.26" y2="249.7" stroke="#000" stroke-width="1" />
<text x="467.26" y="258.5" font-size="7" text-anchor="middle" font-weight="normal" fill="#000" >6</text>
<line x1="485.52" y1="246.7" x2="485.52" y2="249.7" stroke="#000" stroke-width="1" />
<text x="485.52" y="258.5" font-size="7" text-anchor="middle" font-weight="normal" fill="#000" >8</text>
<line x1="503.78" y1="246.7" x2="503.78" y2="249.7" stroke="#000" stroke-width="1" />
<text x="503.78" y="258.5" font-size="7" text-anchor="middle" font-weight="normal" fill="#000" >10</text>
<text transform="translate(476.75,269.4) scale(0.72,1)" font-size="8.8" text-anchor="middle">Day</text>
<text transform="translate(423.4,235.4) rotate(-90)" font-size="7.4" text-anchor="start" textLength="57" lengthAdjust="spacingAndGlyphs">Population doublings</text>
<line x1="503.78" y1="181.0" x2="503.78" y2="237.20999999999998" stroke="#777" stroke-width="1.4" />
<line x1="501.97999999999996" y1="181.0" x2="505.58" y2="181.0" stroke="#000" stroke-width="0.9" />
<line x1="501.97999999999996" y1="237.20999999999998" x2="505.58" y2="237.20999999999998" stroke="#000" stroke-width="0.9" />
<line x1="501.97999999999996" y1="225.53" x2="505.58" y2="225.53" stroke="#000" stroke-width="0.9" />
<line x1="501.97999999999996" y1="229.91" x2="505.58" y2="229.91" stroke="#000" stroke-width="0.9" />
<line x1="449.0" y1="231.36999999999998" x2="449.0" y2="240.49499999999998" stroke="#555" stroke-width="1.2" />
<line x1="447.2" y1="231.36999999999998" x2="450.8" y2="231.36999999999998" stroke="#000" stroke-width="0.9" />
<line x1="447.2" y1="240.49499999999998" x2="450.8" y2="240.49499999999998" stroke="#000" stroke-width="0.9" />
<line x1="447.2" y1="232.82999999999998" x2="450.8" y2="232.82999999999998" stroke="#000" stroke-width="0.9" />
<line x1="449.0" y1="235.385" x2="503.78" y2="233.92499999999998" stroke="#c8102e" stroke-width="1.2"/>
<line x1="449.0" y1="236.99099999999999" x2="503.78" y2="206.54999999999998" stroke="#c8102e" stroke-width="1.2" stroke-dasharray="2.5,1.5"/>
<line x1="449.0" y1="234.509" x2="503.78" y2="202.89999999999998" stroke="#1a4f8f" stroke-width="1.2"/>
<circle cx="449.0" cy="234.509" r="1.2" fill="#1a4f8f"/>
<circle cx="449.0" cy="235.385" r="1.2" fill="#c8102e"/>
<circle cx="449.0" cy="236.99099999999999" r="1.2" fill="#c8102e"/>
<circle cx="503.78" cy="202.89999999999998" r="1.2" fill="#1a4f8f"/>
<circle cx="503.78" cy="206.54999999999998" r="1.2" fill="#c8102e"/>
<circle cx="449.0" cy="233.92499999999998" r="1.2" fill="#c8102e"/>
<circle cx="503.78" cy="233.92499999999998" r="1.2" fill="#c8102e"/>
<line x1="442" y1="281.75" x2="449.5" y2="281.75" stroke="#1a4f8f" stroke-width="1" />
<circle cx="445.75" cy="281.75" r="1.3" fill="#1a4f8f"/>
<text x="453.75" y="284.25" font-size="7" text-anchor="start" font-weight="normal" fill="#000" >HD</text>
<line x1="442" y1="291.5" x2="449.5" y2="291.5" stroke="#c8102e" stroke-width="1" />
<circle cx="445.75" cy="291.5" r="1.3" fill="#c8102e"/>
<text x="453.75" y="294.0" font-size="7" text-anchor="start" font-weight="normal" fill="#000" >CLL baseline</text>
<line x1="442" y1="301.5" x2="449.5" y2="301.5" stroke="#c8102e" stroke-width="1" stroke-dasharray="1.5,1"/>
<circle cx="445.75" cy="301.5" r="1.3" fill="#c8102e"/>
<text x="453.75" y="304.0" font-size="7" text-anchor="start" font-weight="normal" fill="#000" >CLL Ven+Obi</text>
<rect x="0.5" y="0.5" width="519" height="316" fill="none" stroke="#000" stroke-width="1.2"/>
</svg></body></html>
